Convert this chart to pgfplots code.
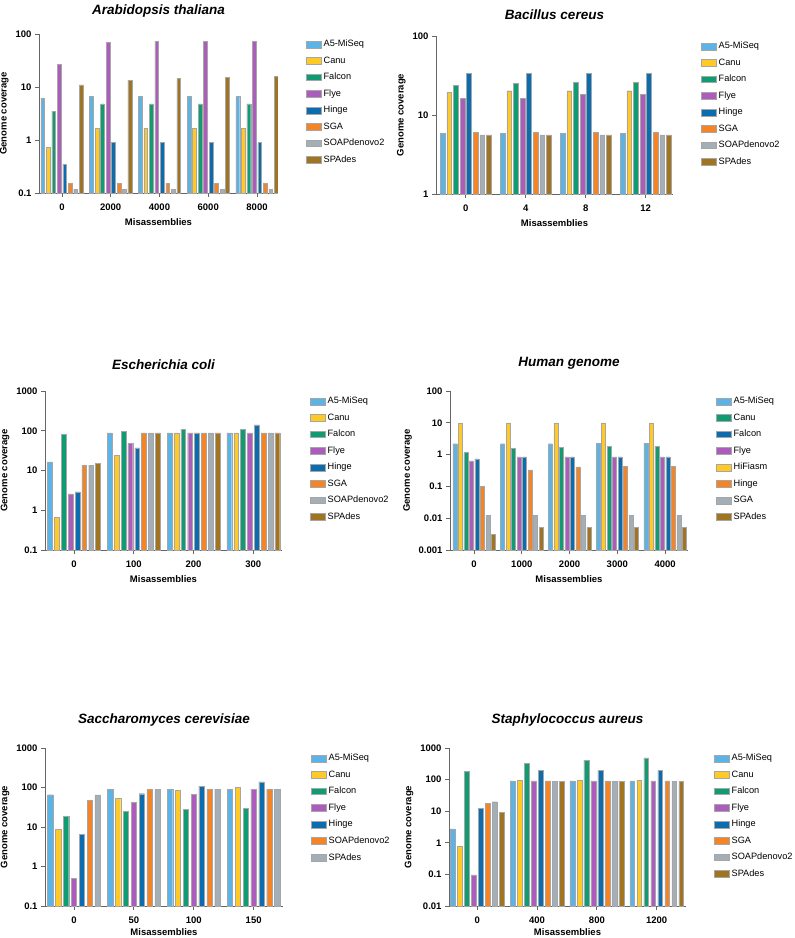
\documentclass[border=0pt]{standalone}
\usepackage{fontspec}
\setmainfont{Liberation Sans}
\usepackage{pgfplots}
\pgfplotsset{compat=1.18}
\definecolor{cA}{RGB}{90,180,232}
\definecolor{cB}{RGB}{255,201,38}
\definecolor{cC}{RGB}{14,156,114}
\definecolor{cD}{RGB}{174,91,190}
\definecolor{cE}{RGB}{11,108,176}
\definecolor{cF}{RGB}{245,132,38}
\definecolor{cG}{RGB}{163,174,182}
\definecolor{cH}{RGB}{160,116,33}
\pgfplotsset{
  gcov/.style={
    scale only axis,
    axis x line*=bottom, axis y line*=left,
    axis line style={draw=black!60, line width=0.9pt},
    tick style={draw=black!60, line width=0.8pt},
    major tick length=4pt, tick align=outside,
    ticklabel style={font=\fontsize{9.5}{11}\selectfont},
    xticklabel style={yshift=-3pt},
    label style={font=\bfseries\fontsize{9.5}{11}\selectfont},
    xlabel style={yshift=-1pt},
    xlabel={Misassemblies}, ylabel={Genome coverage},
    title style={font=\bfseries\itshape\fontsize{13.5}{16}\selectfont, yshift=12pt},
    legend cell align=left,
    legend image post style={xscale=0.88, yscale=1.2},
    legend style={draw=none, fill=none, at={(1,1)}, anchor=north west, xshift=25pt, yshift=-2pt,
      font=\fontsize{9.2}{11}\selectfont, row sep=4.4pt},
  }
}
\begin{document}
\begin{tikzpicture}
\path[use as bounding box] (0,0) rectangle (795pt,-938pt);

% Panel 1
\begin{axis}[gcov, ymode=log, log origin=infty, ybar=1.68pt, bar width=3.8pt, area legend,
  at={(39pt,-34pt)}, anchor=north west,
  width=239pt, height=159pt, xmin=-0.47, xmax=4.43, ymin=0.1, ymax=100,
  xtick={0,1,2,3,4}, xticklabels={\textbf{0},\textbf{2000},\textbf{4000},\textbf{6000},\textbf{8000}},
  ytick={0.1,1,10,100}, yticklabels={\textbf{0.1},\textbf{1},\textbf{10},\textbf{100}},
  yminorticks=false, title style={yshift=-5pt},
  title={Arabidopsis thaliana}]
\addplot[fill=cA, draw=black!35] coordinates {(0,6.2)(1,6.6)(2,6.6)(3,6.6)(4,6.6)};
\addplot[fill=cB, draw=black!35] coordinates {(0,0.72)(1,1.64)(2,1.64)(3,1.64)(4,1.64)};
\addplot[fill=cC, draw=black!35] coordinates {(0,3.5)(1,4.8)(2,4.8)(3,4.8)(4,4.8)};
\addplot[fill=cD, draw=black!35] coordinates {(0,27)(1,70)(2,72)(3,72)(4,72)};
\addplot[fill=cE, draw=black!35] coordinates {(0,0.35)(1,0.89)(2,0.89)(3,0.89)(4,0.89)};
\addplot[fill=cF, draw=black!35] coordinates {(0,0.15)(1,0.15)(2,0.15)(3,0.15)(4,0.15)};
\addplot[fill=cG, draw=black!35] coordinates {(0,0.118)(1,0.119)(2,0.119)(3,0.119)(4,0.119)};
\addplot[fill=cH, draw=black!35] coordinates {(0,11)(1,13.4)(2,14.4)(3,15.2)(4,15.8)};
\legend{A5-MiSeq,Canu,Falcon,Flye,Hinge,SGA,SOAPdenovo2,SPAdes}
\end{axis}

% Panel 2
\begin{axis}[gcov, ymode=log, log origin=infty, ybar=1.8pt, bar width=4.8pt, area legend,
  at={(436pt,-36pt)}, anchor=north west,
  width=237pt, height=158pt, xmin=-0.495, xmax=3.455, ymin=1, ymax=100,
  xtick={0,1,2,3}, xticklabels={\textbf{0},\textbf{4},\textbf{8},\textbf{12}},
  ytick={1,10,100}, yticklabels={\textbf{1},\textbf{10},\textbf{100}},
  yminorticks=false, title style={yshift=-5pt},
  title={Bacillus cereus}]
\addplot[fill=cA, draw=black!35] coordinates {(0,5.8)(1,5.8)(2,5.8)(3,5.8)};
\addplot[fill=cB, draw=black!35] coordinates {(0,19.5)(1,20.3)(2,20.3)(3,20.3)};
\addplot[fill=cC, draw=black!35] coordinates {(0,23.8)(1,25.2)(2,25.7)(3,25.7)};
\addplot[fill=cD, draw=black!35] coordinates {(0,16.3)(1,16.3)(2,18.3)(3,18.3)};
\addplot[fill=cE, draw=black!35] coordinates {(0,33.7)(1,33.7)(2,33.7)(3,33.7)};
\addplot[fill=cF, draw=black!35] coordinates {(0,6.0)(1,6.0)(2,6.0)(3,6.0)};
\addplot[fill=cG, draw=black!35] coordinates {(0,5.6)(1,5.6)(2,5.6)(3,5.6)};
\addplot[fill=cH, draw=black!35] coordinates {(0,5.6)(1,5.6)(2,5.6)(3,5.6)};
\legend{A5-MiSeq,Canu,Falcon,Flye,Hinge,SGA,SOAPdenovo2,SPAdes}
\end{axis}

% Panel 3
\begin{axis}[gcov, ymode=log, log origin=infty, ybar=2.06pt, bar width=4.8pt, area legend,
  at={(45pt,-391pt)}, anchor=north west,
  width=237pt, height=159pt, xmin=-0.485, xmax=3.48, ymin=0.1, ymax=1000,
  xtick={0,1,2,3}, xticklabels={\textbf{0},\textbf{100},\textbf{200},\textbf{300}},
  ytick={0.1,1,10,100,1000}, yticklabels={\textbf{0.1},\textbf{1},\textbf{10},\textbf{100},\textbf{1000}},
  yminorticks=false,
  title={Escherichia coli}]
\addplot[fill=cA, draw=black!35] coordinates {(0,16.5)(1,89)(2,89)(3,89)};
\addplot[fill=cB, draw=black!35] coordinates {(0,0.67)(1,24.4)(2,89)(3,89)};
\addplot[fill=cC, draw=black!35] coordinates {(0,82)(1,98)(2,108)(3,110)};
\addplot[fill=cD, draw=black!35] coordinates {(0,2.6)(1,48)(2,89)(3,89)};
\addplot[fill=cE, draw=black!35] coordinates {(0,2.9)(1,37)(2,89)(3,141)};
\addplot[fill=cF, draw=black!35] coordinates {(0,13.6)(1,89)(2,89)(3,89)};
\addplot[fill=cG, draw=black!35] coordinates {(0,13.6)(1,89)(2,89)(3,89)};
\addplot[fill=cH, draw=black!35] coordinates {(0,15)(1,89)(2,89)(3,89)};
\legend{A5-MiSeq,Canu,Falcon,Flye,Hinge,SGA,SOAPdenovo2,SPAdes}
\end{axis}

% Panel 4
\begin{axis}[gcov, ymode=log, log origin=infty, ybar=1.5pt, bar width=4pt, area legend,
  at={(450pt,-391pt)}, anchor=north west,
  width=238pt, height=159pt, xmin=-0.503, xmax=4.48, ymin=0.001, ymax=100,
  xtick={0,1,2,3,4}, xticklabels={\textbf{0},\textbf{1000},\textbf{2000},\textbf{3000},\textbf{4000}},
  ytick={0.001,0.01,0.1,1,10,100}, yticklabels={\textbf{0.001},\textbf{0.01},\textbf{0.1},\textbf{1},\textbf{10},\textbf{100}},
  yminorticks=false,
  title={Human genome}]
\addplot[fill=cA, draw=black!35, forget plot, bar shift=-19.25pt] coordinates {(0,2.2)(1,2.2)(2,2.2)(3,2.3)(4,2.3)};
\addplot[fill=cB, draw=black!35, forget plot, bar shift=-13.75pt] coordinates {(0,9.6)(1,10)(2,10)(3,10)(4,10)};
\addplot[fill=cC, draw=black!35, forget plot, bar shift=-8.25pt] coordinates {(0,1.15)(1,1.55)(2,1.7)(3,1.78)(4,1.8)};
\addplot[fill=cD, draw=black!35, forget plot, bar shift=-2.75pt] coordinates {(0,0.63)(1,0.85)(2,0.85)(3,0.85)(4,0.85)};
\addplot[fill=cE, draw=black!35, forget plot, bar shift=2.75pt] coordinates {(0,0.73)(1,0.85)(2,0.85)(3,0.85)(4,0.85)};
\addplot[fill=cF, draw=black!35, forget plot, bar shift=8.25pt] coordinates {(0,0.099)(1,0.33)(2,0.41)(3,0.43)(4,0.42)};
\addplot[fill=cG, draw=black!35, forget plot, bar shift=13.75pt] coordinates {(0,0.012)(1,0.012)(2,0.012)(3,0.012)(4,0.012)};
\addplot[fill=cH, draw=black!35, forget plot, bar shift=19.25pt] coordinates {(0,0.0031)(1,0.0051)(2,0.0051)(3,0.0051)(4,0.0051)};
\addlegendimage{fill=cA, draw=black!35}\addlegendentry{A5-MiSeq}
\addlegendimage{fill=cC, draw=black!35}\addlegendentry{Canu}
\addlegendimage{fill=cE, draw=black!35}\addlegendentry{Falcon}
\addlegendimage{fill=cD, draw=black!35}\addlegendentry{Flye}
\addlegendimage{fill=cB, draw=black!35}\addlegendentry{HiFiasm}
\addlegendimage{fill=cF, draw=black!35}\addlegendentry{Hinge}
\addlegendimage{fill=cG, draw=black!35}\addlegendentry{SGA}
\addlegendimage{fill=cH, draw=black!35}\addlegendentry{SPAdes}
\end{axis}

% Panel 5
\begin{axis}[gcov, ymode=log, log origin=infty, ybar=2.5pt, bar width=5.4pt, area legend,
  at={(45pt,-748pt)}, anchor=north west,
  width=238pt, height=158pt, xmin=-0.483, xmax=3.49, ymin=0.1, ymax=1000,
  xtick={0,1,2,3}, xticklabels={\textbf{0},\textbf{50},\textbf{100},\textbf{150}},
  ytick={0.1,1,10,100,1000}, yticklabels={\textbf{0.1},\textbf{1},\textbf{10},\textbf{100},\textbf{1000}},
  yminorticks=false, xlabel style={yshift=3pt},
  title={Saccharomyces cerevisiae}]
\addplot[fill=cA, draw=black!35] coordinates {(0,65.6)(1,91)(2,91)(3,91)};
\addplot[fill=cB, draw=black!35] coordinates {(0,8.85)(1,54)(2,84.6)(3,102)};
\addplot[fill=cC, draw=black!35] coordinates {(0,18.5)(1,24.8)(2,27.9)(3,30)};
\addplot[fill=cD, draw=black!35] coordinates {(0,0.51)(1,42.8)(2,67)(3,91)};
\addplot[fill=cE, draw=black!35] coordinates {(0,6.6)(1,69.6)(2,109)(3,138)};
\addplot[fill=cF, draw=black!35] coordinates {(0,47)(1,91)(2,91)(3,91)};
\addplot[fill=cG, draw=black!35] coordinates {(0,65)(1,91)(2,91)(3,91)};
\legend{A5-MiSeq,Canu,Falcon,Flye,Hinge,SOAPdenovo2,SPAdes}
\end{axis}

% Panel 6
\begin{axis}[gcov, ymode=log, log origin=infty, ybar=2.1pt, bar width=4.9pt, area legend,
  at={(449pt,-748pt)}, anchor=north west,
  width=237pt, height=158pt, xmin=-0.473, xmax=3.49, ymin=0.01, ymax=1000,
  xtick={0,1,2,3}, xticklabels={\textbf{0},\textbf{400},\textbf{800},\textbf{1200}},
  ytick={0.01,0.1,1,10,100,1000}, yticklabels={\textbf{0.01},\textbf{0.1},\textbf{1},\textbf{10},\textbf{100},\textbf{1000}},
  yminorticks=false, xlabel style={yshift=3pt},
  title={Staphylococcus aureus}]
\addplot[fill=cA, draw=black!35] coordinates {(0,2.78)(1,92)(2,92)(3,92)};
\addplot[fill=cB, draw=black!35] coordinates {(0,0.77)(1,97)(2,97)(3,97)};
\addplot[fill=cC, draw=black!35] coordinates {(0,178)(1,320)(2,408)(3,484)};
\addplot[fill=cD, draw=black!35] coordinates {(0,0.097)(1,92)(2,92)(3,92)};
\addplot[fill=cE, draw=black!35] coordinates {(0,12.6)(1,192)(2,192)(3,192)};
\addplot[fill=cF, draw=black!35] coordinates {(0,18)(1,92)(2,92)(3,92)};
\addplot[fill=cG, draw=black!35] coordinates {(0,20)(1,88)(2,88)(3,88)};
\addplot[fill=cH, draw=black!35] coordinates {(0,9.2)(1,90)(2,90)(3,90)};
\legend{A5-MiSeq,Canu,Falcon,Flye,Hinge,SGA,SOAPdenovo2,SPAdes}
\end{axis}
\end{tikzpicture}
\end{document}
